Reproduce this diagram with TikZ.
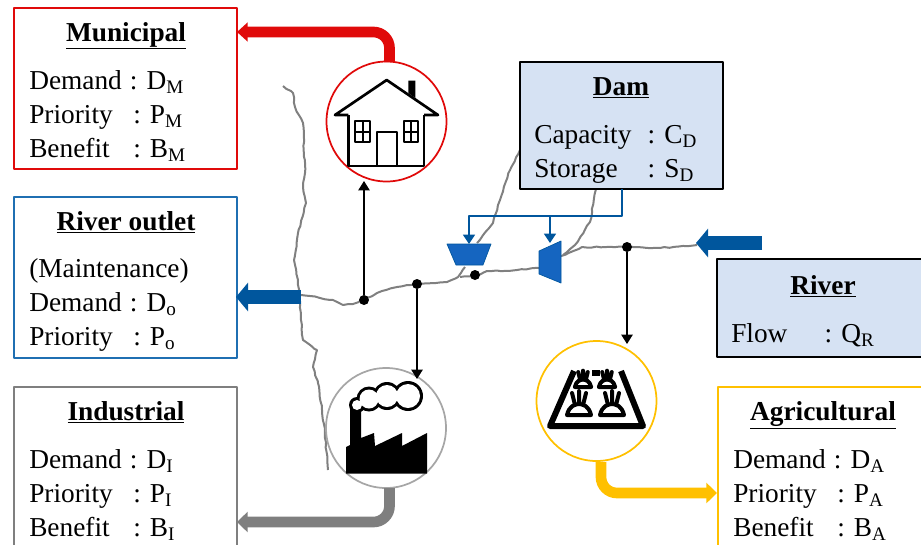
\documentclass[tikz,border=0pt]{standalone}
\usepackage{fontspec}
\setmainfont{Liberation Serif}
\usetikzlibrary{arrows.meta,decorations.pathmorphing}
\definecolor{muni}{HTML}{E00A0A}
\definecolor{outlet}{HTML}{1F6FB2}
\definecolor{indus}{HTML}{7F7F7F}
\definecolor{agri}{HTML}{FFC000}
\definecolor{damfill}{HTML}{D6E2F3}
\definecolor{flowblue}{HTML}{00569D}
\definecolor{gatefill}{HTML}{1565C0}
\newcommand\lbl[4]{\makebox[#2pt][l]{#1}: #3\textsubscript{#4}}
\begin{document}
\begin{tikzpicture}[x=0.75pt,y=-0.75pt,line join=round,>=stealth]
	\tikzset{every node/.style={font=\fontsize{20.5}{24}\selectfont},
		box/.style={draw,rectangle,anchor=north west,inner sep=0pt,line width=1.4pt},
		title/.style={anchor=base,font=\fontsize{20.5}{24}\selectfont\bfseries},
		row/.style={anchor=base west,inner sep=0pt},
		ring/.style={draw,circle,inner sep=0pt,minimum size=90pt,line width=1.3pt},
		junc/.style={fill=black,circle,inner sep=0pt,minimum size=7.5pt},
		river/.style={draw=black!50,line width=1.5pt,decorate,decoration={random steps,segment length=3.5pt,amplitude=.45pt}},
		link/.style={-{Triangle[length=7pt,width=8.5pt]},line width=1.1pt},
		gate/.style={draw=flowblue,fill=gatefill,line width=.5pt},
		feed/.style={-{Triangle[length=7pt,width=9pt]},draw=flowblue,line width=1.2pt},
		thick arrow/.style={rounded corners=12pt,line width=8pt,-{Triangle[length=8pt,width=15pt]}},
		plant/.pic={
			\draw[line width=3pt,fill=white] (-12,0)--(12,0) .. controls (10,-9) and (4,-11) .. (0,-11) .. controls (-4,-11) and (-10,-9) .. (-12,0)--cycle;
			\draw[line width=3pt,line cap=round] (0,-11)--(0,-24) (-4,-10)--(-7,-22) (4,-10)--(7,-22);
		}}
	\useasboundingbox (0,0) rectangle (921,544);
	\clip (0,0) rectangle (921,544);
	% rivers
	\draw[river] (283,86)--(293,93)--(295,107)--(303,123)--(305,173)--(303,187)--(306,203)--(298,233)--(294,260)--(298,280)--(301,320)--(303,340)--(317,350)--(313,367)--(318,383)--(322,410)--(325,433)--(328,470);
	\draw[river] (301,295)--(310,296)--(320,298)--(333,300)--(343,305)--(353,304)--(364,300)--(377,293)--(397,287)--(417,284)--(447,282)--(458,277)--(465,267);
	\draw[river] (460,277)--(475,276)--(487,271)--(517,270)--(539,268);
	\draw[river] (477,243)--(493,223)--(500,200)--(510,170)--(520,150);
	\draw[river] (561,256)--(582,247)--(627,247)--(660,248)--(697,245);
	\draw[river] (563,255)--(575,245)--(590,222)--(596,189);
	% boxes
	\node[box,draw=muni,minimum width=167.25pt,minimum height=120.75pt] (municipal) at (13,7) {};
	\node[box,draw=outlet,minimum width=167.25pt,minimum height=120.75pt] (outletbox) at (13,196) {};
	\node[box,draw=indus,minimum width=167.25pt,minimum height=130pt] (industrial) at (13,386) {};
	\node[box,fill=damfill,minimum width=152pt,minimum height=95.25pt] (dam) at (519,61) {};
	\node[box,fill=damfill,minimum width=170pt,minimum height=73.5pt] (riverbox) at (716,258) {};
	\node[box,draw=agri,minimum width=170pt,minimum height=130pt] (agricultural) at (717,386) {};
	% box texts
	\node[title] (t1) at (126,41) {\underline{Municipal}};
	\node[row] (m1) at (29,89) {\lbl{Demand}{75.5}{D}{M}};
	\node[row] (m2) at (29,123) {\lbl{Priority}{78}{P}{M}};
	\node[row] (m3) at (29,157) {\lbl{Benefit}{78}{B}{M}};
	\node[title] (t2) at (126,230) {\underline{River outlet}};
	\node[row] (o1) at (29,277) {(Maintenance)};
	\node[row] (o2) at (29,311) {\lbl{Demand}{75.5}{D}{o}};
	\node[row] (o3) at (29,345) {\lbl{Priority}{78}{P}{o}};
	\node[title] (t3) at (126,420) {\underline{Industrial}};
	\node[row] (i1) at (29,468) {\lbl{Demand}{75.5}{D}{I}};
	\node[row] (i2) at (29,502) {\lbl{Priority}{78}{P}{I}};
	\node[row] (i3) at (29,536) {\lbl{Benefit}{78}{B}{I}};
	\node[title] (t4) at (621,95) {\underline{Dam}};
	\node[row] (d1) at (534,143) {\lbl{Capacity}{85}{C}{D}};
	\node[row] (d2) at (534,177) {\lbl{Storage}{85}{S}{D}};
	\node[title] (t5) at (823,294) {\underline{River}};
	\node[row] (r1) at (731,342) {\lbl{Flow}{70}{Q}{R}};
	\node[title] (t6) at (823,420) {\underline{Agricultural}};
	\node[row] (a1) at (733,468) {\lbl{Demand}{75.5}{D}{A}};
	\node[row] (a2) at (733,502) {\lbl{Priority}{78}{P}{A}};
	\node[row] (a3) at (733,536) {\lbl{Benefit}{78}{B}{A}};
	% use circles
	\node[ring,draw=muni] (house) at (386.5,121.5) {};
	\node[ring,draw=black!35] (factory) at (386,428) {};
	\node[ring,draw=agri] (farm) at (596.5,401) {};
	% junctions
	\node[junc] (j1) at (364,300) {};
	\node[junc] (j2) at (417,284) {};
	\node[junc] (j3) at (475,275) {};
	\node[junc] (j4) at (627,247) {};
	\draw[link] (j1)--(364,181) coordinate (houseIn);
	\draw[link] (j2)--(417,379) coordinate (factoryIn);
	\draw[link] (j4)--(627,344) coordinate (farmIn);
	% dam gates
	\draw[gate] (447,244)--(491,244)--(483,265)--(456,265)--cycle;
	\draw[gate] (539,251)--(561,241)--(561,283)--(539,274)--cycle;
	\coordinate (damOut) at (622,189);
	\coordinate (tee) at (550,216);
	\draw[feed] (damOut)--(622,216)--(469,216)--(469,244);
	\draw[feed] (tee)--(550,243);
	% supply arrows
	\coordinate (houseOut) at (389.5,62);
	\coordinate (factoryOut) at (389.5,488);
	\coordinate (farmOut) at (601,462);
	\draw[thick arrow,draw=muni,-{Triangle[length=8pt,width=14pt]}] (houseOut)--(389.5,32)--(237,32);
	\draw[thick arrow,draw=indus] (factoryOut)--(389.5,522)--(237,522);
	\draw[thick arrow,draw=agri] (farmOut)--(601,493)--(717,493);
	\draw[line width=11pt,draw=flowblue,-{Triangle[length=9pt,width=21pt]}] (301,297) coordinate (outletStart)--(236,297) coordinate (outletEnd);
	\draw[line width=11pt,draw=flowblue,-{Triangle[length=9pt,width=21pt]}] (762,243) coordinate (inStart)--(696,243) coordinate (inEnd);
	% house
	\draw[line width=2pt] (348.3,115)--(335,115)--(386.7,80)--(438,115)--(424,115);
	\draw[line width=2pt] (348.3,115)--(348.3,166)--(424,166)--(424,115);
	\draw[line width=1.7pt] (376.7,166)--(376.7,132.3)--(397.3,132.3)--(397.3,166);
	\draw[line width=1.5pt] (355.3,121.3) rectangle (370,142) (362.6,121.3)--(362.6,142) (355.3,131.6)--(370,131.6);
	\draw[line width=1.5pt] (404,121.3) rectangle (418.3,142) (411.1,121.3)--(411.1,142) (404,131.6)--(418.3,131.6);
	\fill (408.3,80.7)--(415.3,80.7)--(415.3,98)--(408.3,93)--cycle;
	% factory
	\fill (346,473.5)--(346,447)--(350,445)--(350,408)--(361,408)--(361,438)--(374,433)--(375,446)--(402,433)--(402,446)--(427,433)--(427,473.5)--cycle;
	\fill (357,405) circle (8) (369,399) circle (12.5) (387,396) circle (14) (408,396) circle (15);
	\fill[white] (357,405) circle (5) (369,399) circle (9.5) (387,396) circle (11) (408,396) circle (12);
	% farm
	\draw[line width=4.5pt] (574,371)--(550,426)--(643,426)--(621,371);
	\fill (592,370) rectangle (600,376);
	\pic[scale=.68] at (583,387) {plant};
	\pic[scale=.68] at (607,387) {plant};
	\pic at (579,415) {plant};
	\pic at (612,415) {plant};
\end{tikzpicture}
\end{document}
